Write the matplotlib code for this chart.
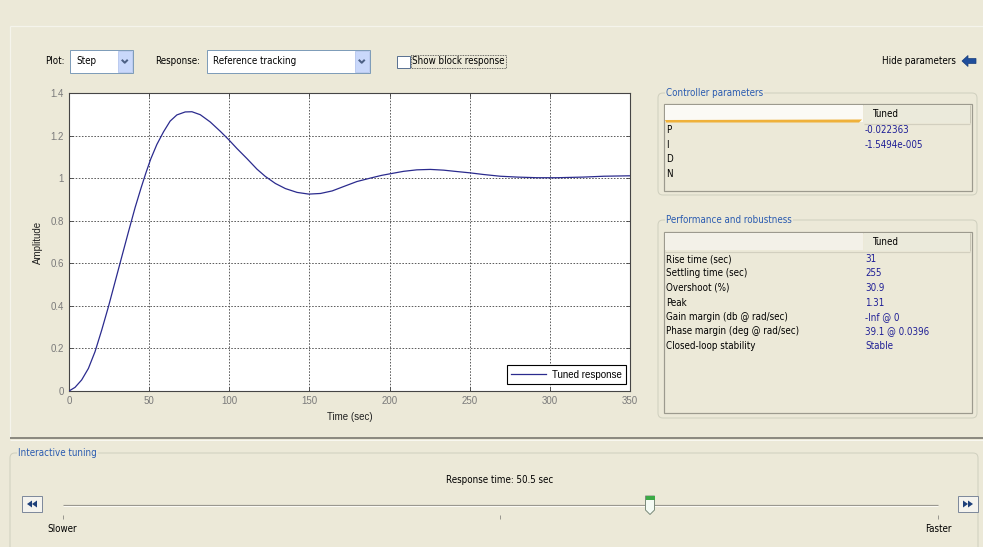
import matplotlib
matplotlib.use("Agg")
import matplotlib.pyplot as plt
from matplotlib.patches import Rectangle, FancyBboxPatch, Polygon

# ---------------- data ----------------
time_s = [0, 3.75, 7.9, 12.1, 16.25, 20.4, 24.6, 28.75, 32.9, 37.1, 41.25, 45, 48,
          51, 54.8, 59, 63.1, 67.3, 72.5, 76.7, 81.9, 88.1, 94.4, 99.6, 104.8,
          111, 117.3, 122.5, 128.75, 135, 142.3, 149.6, 156.9, 164.2, 171.5,
          179.6, 187.9, 195, 200, 208.75, 217, 225.4, 233.75, 242, 250, 258.75, 269,
          279.6, 292, 304.6, 321, 333.75, 350]
amplitude = [0, 0.017, 0.052, 0.106, 0.185, 0.286, 0.396, 0.513, 0.63, 0.748, 0.862, 0.955, 1.025,
             1.09, 1.158, 1.218, 1.268, 1.297, 1.311, 1.312, 1.298, 1.264, 1.22, 1.181, 1.139,
             1.092, 1.042, 1.008, 0.975, 0.951, 0.933, 0.925, 0.928, 0.94, 0.961,
             0.984, 1.0, 1.013, 1.02, 1.032, 1.039, 1.041, 1.0375, 1.031, 1.025, 1.017, 1.009,
             1.005, 1.002, 1.002, 1.005, 1.009, 1.011]
x_ticks = [0, 50, 100, 150, 200, 250, 300, 350]
y_ticks = [0, 0.2, 0.4, 0.6, 0.8, 1.0, 1.2, 1.4]
y_tick_labels = ["0", "0.2", "0.4", "0.6", "0.8", "1", "1.2", "1.4"]
series_label = "Tuned response"

param_names = ["P", "I", "D", "N"]
param_values = ["-0.022363", "-1.5494e-005", "", ""]
perf_names = ["Rise time (sec)", "Settling time (sec)", "Overshoot (%)", "Peak",
              "Gain margin (db @ rad/sec)", "Phase margin (deg @ rad/sec)",
              "Closed-loop stability"]
perf_values = ["31", "255", "30.9", "1.31", "-Inf @ 0", "39.1 @ 0.0396", "Stable"]
response_time_text = "Response time: 50.5 sec"

# ---------------- styling ----------------
W, H = 983, 547
BG = "#ece9d8"
BLUE_TXT = "#1e1e96"
TITLE_BLUE = "#2a5bb0"
PX = 0.72  # one pixel in points at 100 dpi
FS = 7.0

fig = plt.figure(figsize=(W / 100, H / 100), dpi=100, facecolor=BG)
ui = fig.add_axes([0, 0, 1, 1])
ui.set_xlim(0, W)
ui.set_ylim(H, 0)
ui.axis("off")
ui.set_zorder(0)

UIFONT = dict(family="DejaVu Sans", fontstretch="condensed")


def txt(x, y, s, color="#000000", ha="left", size=FS, **kw):
    return ui.text(x, y, s, color=color, ha=ha, va="center", fontsize=size, **UIFONT, **kw)


def line(xs, ys, color, lw=1.0, **kw):
    ui.plot(xs, ys, color=color, lw=lw * PX, solid_capstyle="butt", **kw)


def box(x0, y0, x1, y1, fc, ec="none", lw=1.0, z=1, **kw):
    ui.add_patch(Rectangle((x0, y0), x1 - x0, y1 - y0, facecolor=fc, edgecolor=ec,
                           linewidth=lw * PX, zorder=z, **kw))


def group(x0, y0, x1, y1, title):
    ui.add_patch(FancyBboxPatch((x0, y0), x1 - x0, y1 - y0,
                                boxstyle="round,pad=0,rounding_size=5",
                                facecolor="none", edgecolor="#d0d0bf", linewidth=PX, zorder=1))
    ui.text(x0 + 8, y0, title, color=TITLE_BLUE, ha="left", va="center", fontsize=FS,
            zorder=3, bbox=dict(facecolor=BG, edgecolor="none", pad=0.6), **UIFONT)


def chevron(cx, cy, color="#4d6185"):
    line([cx - 3, cx, cx + 3], [cy - 1.5, cy + 1.5, cy - 1.5], color, lw=2.0, zorder=4)


def dropdown(x0, x1, y0, y1, label):
    box(x0, y0, x1, y1, "white", "#7f9db9", z=2)
    box(x1 - 15, y0 + 1.5, x1 - 1.5, y1 - 1.5, "#c9d8fb", "#bccbef", z=3)
    chevron(x1 - 8.25, (y0 + y1) / 2)
    txt(x0 + 6, (y0 + y1) / 2, label, zorder=4)


# ---------------- window chrome ----------------
line([10, W], [26, 26], "#f5f4ec", lw=1.2)
line([10, 10], [26, 437], "#f5f4ec", lw=1.2)
line([10, W], [437.5, 437.5], "#8c8a80", lw=2.0)
line([10, W], [440, 440], "#f8f7f0", lw=1.0)

# toolbar row
txt(45, 61, "Plot:")
dropdown(70, 133, 49.5, 73, "Step")
txt(155, 61, "Response:")
dropdown(207, 370, 49.5, 73, "Reference tracking")
box(397, 55.5, 410, 67.5, "white", "#5c7393", z=2)
txt(412, 61, "Show block response", zorder=3)
ui.add_patch(Rectangle((410.5, 54.5), 95, 13, facecolor="none", edgecolor="#404040",
                       linewidth=0.6, linestyle=(0, (1, 1)), zorder=3))
txt(956, 61, "Hide parameters", ha="right")
ui.add_patch(Polygon([(962, 61), (968, 55.5), (968, 58.5), (976, 58.5), (976, 63.5),
                      (968, 63.5), (968, 66.5)], closed=True, facecolor="#1f4e9c",
                     edgecolor="#173d7c", linewidth=0.5, zorder=3))

# ---------------- controller parameters table ----------------
group(658, 93, 977, 195, "Controller parameters")
box(664, 104, 972, 191, "none", "#9c9a8e", lw=1.2, z=2)
box(665, 105, 863, 122, "#fbfaf5", z=2)
ui.add_patch(Polygon([(665, 120), (862, 119.5), (859, 122.5), (666, 122.5)], closed=True,
                     facecolor="#efb13a", edgecolor="none", zorder=3))
box(864, 105, 970, 123, "#ebeadb", z=2)
line([864, 970], [123.5, 123.5], "#d2cfbf", lw=1.2, zorder=3)
line([969.5, 969.5], [105, 123], "#c9c6b6", lw=1.0, zorder=3)
txt(872, 114, "Tuned", zorder=4)
for i, (nm, val) in enumerate(zip(param_names, param_values)):
    y = 130 + i * 14.6
    txt(666, y, nm, zorder=4)
    if val:
        txt(865, y, val, color=BLUE_TXT, zorder=4)

# ---------------- performance table ----------------
group(658, 220, 977, 418, "Performance and robustness")
box(664, 232, 972, 413, "none", "#9c9a8e", lw=1.2, z=2)
box(665, 233, 863, 250, "#f3f1e8", z=2)
box(864, 233, 970, 251, "#ebeadb", z=2)
line([665, 970], [251.5, 251.5], "#d2cfbf", lw=1.2, zorder=3)
line([969.5, 969.5], [233, 251], "#c9c6b6", lw=1.0, zorder=3)
txt(872, 242, "Tuned", zorder=4)
for i, (nm, val) in enumerate(zip(perf_names, perf_values)):
    y = 259 + i * 14.5
    txt(666, y, nm, zorder=4)
    txt(865, y, val, color=BLUE_TXT, zorder=4)

# ---------------- interactive tuning ----------------
ui.add_patch(FancyBboxPatch((10, 453), 968, 120, boxstyle="round,pad=0,rounding_size=5",
                            facecolor="none", edgecolor="#d0d0bf", linewidth=PX, zorder=1))
ui.text(18, 453, "Interactive tuning", color=TITLE_BLUE, ha="left", va="center", fontsize=FS,
        zorder=3, bbox=dict(facecolor=BG, edgecolor="none", pad=0.6), **UIFONT)
txt(500, 480, response_time_text, ha="center")
line([63, 938], [504.5, 504.5], "#9a9890", lw=1.2)
line([63, 938], [506, 506], "#fbfaf4", lw=1.0)
for tx in (63, 500, 938):
    line([tx, tx], [515, 519], "#9a9890", lw=1.0)
txt(62, 529, "Slower", ha="center")
txt(938, 529, "Faster", ha="center")
# slider buttons
for bx0, d in ((22, -1), (958, 1)):
    box(bx0, 496, bx0 + 20, 512, "#f4f3ee", "#7f8a9c", lw=1.0, z=2)
    cx = bx0 + 10
    for off in (-2.5, 2.5):
        tip = cx + off + 2.5 * d
        base = cx + off - 2.5 * d
        ui.add_patch(Polygon([(tip, 504), (base, 500.5), (base, 507.5)], closed=True,
                             facecolor="#1d3f7a", edgecolor="none", zorder=3))
# thumb
ui.add_patch(Polygon([(645.5, 496), (654.5, 496), (654.5, 510), (650, 514.5), (645.5, 510)],
                     closed=True, facecolor="#f4fbf4", edgecolor="#7a8a7a", linewidth=0.7, zorder=3))
box(645.5, 496, 654.5, 499.5, "#3caa46", z=4)

# ---------------- step response plot ----------------
ax = fig.add_axes([69 / W, 1 - 391 / H, 561 / W, 298 / H])
ax.set_zorder(2)
ax.set_facecolor("white")
ax.plot(time_s, amplitude, color="#2b2b8e", lw=0.9, label=series_label, zorder=3)
ax.set_xlim(0, 350)
ax.set_ylim(0, 1.4)
ax.set_xticks(x_ticks)
ax.set_yticks(y_ticks, y_tick_labels)
ax.grid(True, color="#5a5a5a", linestyle=(0, (1.6, 1.6)), linewidth=0.7)
ax.tick_params(direction="in", length=3, width=0.6, color="#404040", labelcolor="#7a7a7a",
               labelsize=7, top=True, right=True, pad=3.5)
for lbl in ax.get_xticklabels() + ax.get_yticklabels():
    lbl.set_fontfamily("Liberation Sans")
for sp in ax.spines.values():
    sp.set_color("#454545")
    sp.set_linewidth(0.8)
ax.set_xlabel("Time (sec)", fontsize=7, family="Liberation Sans", color="#202020")
ax.set_ylabel("Amplitude", fontsize=7, family="Liberation Sans", color="#202020")
ax.xaxis.set_label_coords(0.5, -0.071)
ax.yaxis.set_label_coords(-0.047, 0.5)
leg = ax.legend(loc="lower right", bbox_to_anchor=(0.993, 0.0235), borderaxespad=0,
                fancybox=False, framealpha=1, edgecolor="#000000",
                prop=dict(family="Liberation Sans", size=7), handlelength=3.6,
                borderpad=0.45, handletextpad=0.6)
leg.get_frame().set_linewidth(0.8)

fig.savefig("out.png", dpi=100, facecolor=BG)
